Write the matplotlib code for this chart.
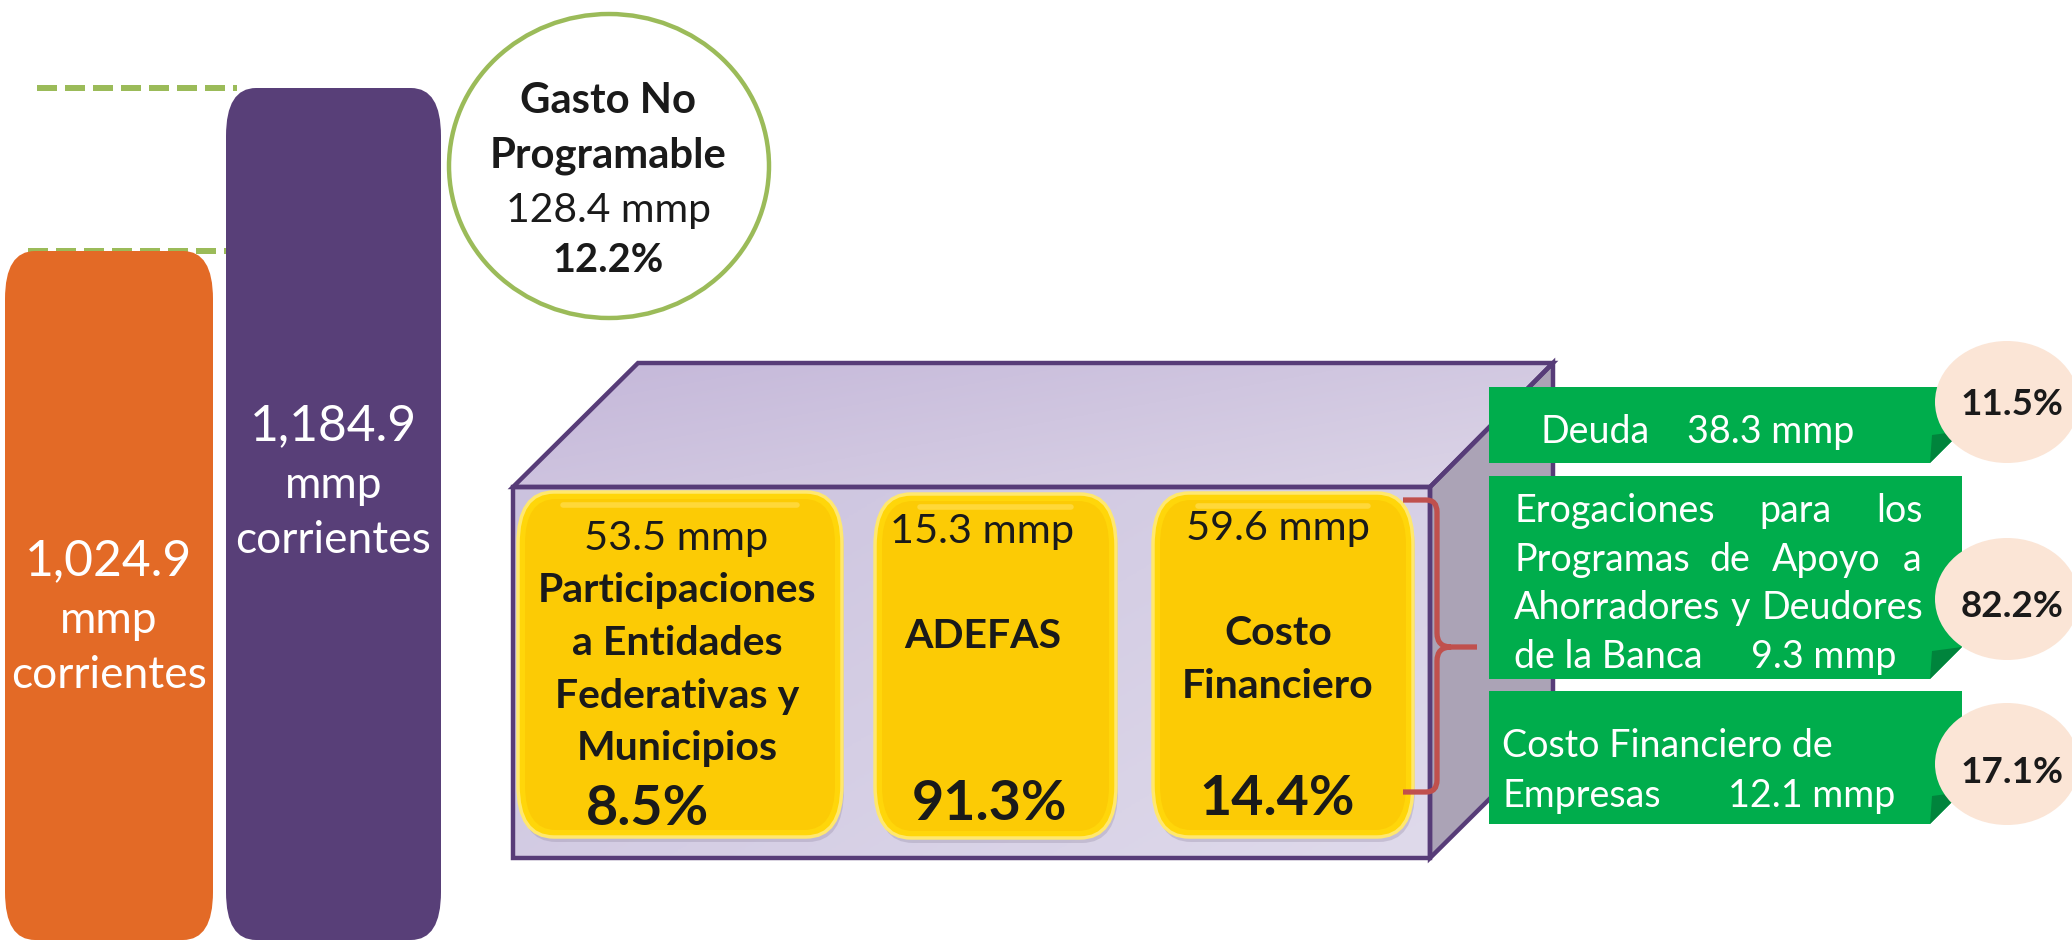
import matplotlib
matplotlib.use("Agg")
import matplotlib.pyplot as plt
from matplotlib.patches import FancyBboxPatch, Polygon, Ellipse, PathPatch
from matplotlib.path import Path
from matplotlib.textpath import TextPath
from matplotlib.font_manager import FontProperties
from matplotlib.colors import LinearSegmentedColormap
import numpy as np

# ---------------- data ----------------
total_values = [1024.9, 1184.9]
total_unit_lines = ["mmp", "corrientes"]
total_colors = ["#E36A26", "#583F78"]

no_prog_title = ["Gasto No", "Programable"]
no_prog_value = 128.4
no_prog_pct = 12.2

comp_labels = [["Participaciones", "a Entidades", "Federativas y", "Municipios"],
               ["ADEFAS"],
               ["Costo", "Financiero"]]
comp_values = [53.5, 15.3, 59.6]
comp_pcts = [8.5, 91.3, 14.4]

cf_labels = [["Deuda"],
             ["Erogaciones para los", "Programas de Apoyo a",
              "Ahorradores y Deudores", "de la Banca"],
             ["Costo Financiero de", "Empresas"]]
cf_values = [38.3, 9.3, 12.1]
cf_pcts = [11.5, 82.2, 17.1]

# ---------------- setup ----------------
W, H, DPI = 2072, 941, 100
FAM = "Lato"
fig = plt.figure(figsize=(W / DPI, H / DPI), dpi=DPI)
ax = fig.add_axes([0, 0, 1, 1])
ax.set_xlim(0, W)
ax.set_ylim(H, 0)
ax.axis("off")


def fp(weight):
    return FontProperties(family=FAM, weight=weight)


def ink_w(s, weight, size=100):
    tp = TextPath((0, 0), s, size=size, prop=fp(weight))
    return tp.get_extents().width * DPI / 72.0  # pixels at `size` pt


def size_for(s, target_px, weight):
    return 100.0 * target_px / ink_w(s, weight)


def txt(x, y, s, size, weight="normal", color="#1a1a1a", ha="center", z=10):
    ax.text(x, y, s, fontsize=size, fontweight=weight, family=FAM, color=color,
            ha=ha, va="baseline", zorder=z)


def justify(words, x0, x1, y, size, color, weight="normal", z=10):
    widths = [ink_w(w, weight, size) for w in words]
    gap = (x1 - x0 - sum(widths)) / (len(words) - 1)
    x = x0
    for w, wd in zip(words, widths):
        txt(x, y, w, size, weight, color, ha="left", z=z)
        x += wd + gap


def fmt_total(v):
    return f"{v:,.1f}"


# ---------------- left bars ----------------
bar_x = [(5, 213), (226, 441)]
bar_top = [251, 88]
for (x0, x1), top, col in zip(bar_x, bar_top, total_colors):
    p = FancyBboxPatch((x0, top), x1 - x0, 940 - top,
                       boxstyle="round,pad=0,rounding_size=30",
                       mutation_aspect=1.6, fc=col, ec="none", zorder=3)
    ax.add_patch(p)

s_bar = size_for("corrientes", 192, "normal")
s_num = size_for("1,024.9", 160, "normal")
bar_base = [[575, 633, 688], [440, 498, 553]]
for (x0, x1), v, bases in zip(bar_x, total_values, bar_base):
    cx = (x0 + x1) / 2
    txt(cx, bases[0], fmt_total(v), s_num, color="white", z=5)
    for ln, b in zip(total_unit_lines, bases[1:]):
        txt(cx, b, ln, s_bar, color="white", z=5)

# dashed guide lines
dash_lw_px = 6
for y, (xa, xb) in zip(bar_top, [(28, 228), (37, 237)]):
    ax.plot([xa, xb], [y, y], color="#9BBB59", lw=dash_lw_px * 0.72,
            dashes=(20 / dash_lw_px, 8 / dash_lw_px), solid_capstyle="butt",
            dash_capstyle="butt", zorder=2)

# ---------------- Gasto No Programable circle ----------------
ax.add_patch(Ellipse((609, 166), 320, 304, fc="white", ec="#9BBB59", lw=3.2, zorder=4))
s_gb = size_for("Programable", 233, "bold")
txt(608, 113, no_prog_title[0], s_gb, "bold", z=5)
txt(608, 167, no_prog_title[1], s_gb, "bold", z=5)
s_gn = size_for(f"{no_prog_value} mmp", 200, "normal")
txt(608, 222, f"{no_prog_value} mmp", s_gn, z=5)
txt(608, 272, f"{no_prog_pct}%", size_for(f"{no_prog_pct}%", 107, "bold"), "bold", z=5)

# ---------------- 3D box ----------------
outline = "#573C78"
front = [(513, 487), (1430, 487), (1430, 858), (513, 858)]
top = [(513, 487), (638, 363), (1553, 363), (1430, 487)]
right = [(1430, 487), (1553, 363), (1553, 736), (1430, 858)]


def grad_fill(poly_pts, c0, c1, z):
    poly = Polygon(poly_pts, closed=True, fc="none", ec="none", zorder=z)
    ax.add_patch(poly)
    xs = [p[0] for p in poly_pts]
    ys = [p[1] for p in poly_pts]
    gx, gy = np.meshgrid(np.linspace(0, 1, 200), np.linspace(0, 1, 200))
    g = (gx * 0.6 + gy * 0.4)
    cmap = LinearSegmentedColormap.from_list("g", [c0, c1])
    im = ax.imshow(g, cmap=cmap, extent=(min(xs), max(xs), max(ys), min(ys)),
                   origin="upper", zorder=z, interpolation="bilinear")
    im.set_clip_path(poly)


grad_fill(top, "#C4B7D9", "#DCD5E7", 1.0)
grad_fill(front, "#CBC2DE", "#DFDAEB", 1.0)
ax.add_patch(Polygon(right, closed=True, fc="#ABA3B6", ec="none", zorder=1.0))
for poly in (top, front, right):
    ax.add_patch(Polygon(poly, closed=True, fc="none", ec=outline, lw=3.2,
                         joinstyle="miter", zorder=1.5))

# ---------------- yellow component boxes ----------------
ybox = [(518, 492, 842, 837), (875, 494, 1116, 838), (1153, 493, 1413, 837)]
for (x0, y0, x1, y1) in ybox:
    # shadow
    ax.add_patch(FancyBboxPatch((x0 + 2, y0 + 5), x1 - x0, y1 - y0,
                                boxstyle="round,pad=0,rounding_size=36", mutation_aspect=1.45,
                                fc="#8E85A0", ec="none", alpha=0.3, zorder=2))
    # glow edge
    ax.add_patch(FancyBboxPatch((x0, y0), x1 - x0, y1 - y0,
                                boxstyle="round,pad=0,rounding_size=36", mutation_aspect=1.45,
                                fc="#FFD60A", ec="#FFE86E", lw=2.5, zorder=2.2))
    ax.add_patch(FancyBboxPatch((x0 + 7, y0 + 7), x1 - x0 - 14, y1 - y0 - 14,
                                boxstyle="round,pad=0,rounding_size=31", mutation_aspect=1.45,
                                fc="#FCCB05", ec="none", zorder=2.3))
    # subtle top highlight
    ax.plot([x0 + 45, x1 - 45], [y0 + 13, y0 + 13], color="#FFD83A", lw=4,
            solid_capstyle="round", zorder=2.4)

s_yn = size_for("59.6 mmp", 180, "normal")
s_yb = size_for("Financiero", 187, "bold")
s_yp = size_for("14.4%", 150, "bold")

val_pos = [(676, 550), (982, 543), (1278, 540)]
label_bases = [[602, 655, 708, 760], [648], [645, 698]]
label_x = [677, 983, 1278]
pct_pos = [(648, 825), (990, 820), (1277, 815)]
for i in range(3):
    txt(val_pos[i][0], val_pos[i][1], f"{comp_values[i]} mmp", s_yn, z=5)
    for ln, b in zip(comp_labels[i], label_bases[i]):
        txt(label_x[i], b, ln, s_yb, "bold", z=5)
    txt(pct_pos[i][0], pct_pos[i][1], f"{comp_pcts[i]}%", s_yp, "bold", z=5)

# ---------------- red bracket ----------------
bx, tipx, ytop, ybot, ymid = 1437, 1477, 500, 792, 647
verts = [(1403, ytop), (1426, ytop), (bx, ytop), (bx, ytop + 12), (bx, ymid - 14),
         (bx, ymid), (bx + 14, ymid), (tipx, ymid),
         (1403, ybot), (1426, ybot), (bx, ybot), (bx, ybot - 12), (bx, ymid + 14),
         (bx, ymid), (bx + 14, ymid)]
codes = [Path.MOVETO, Path.LINETO, Path.CURVE3, Path.CURVE3, Path.LINETO,
         Path.CURVE3, Path.CURVE3, Path.LINETO,
         Path.MOVETO, Path.LINETO, Path.CURVE3, Path.CURVE3, Path.LINETO,
         Path.CURVE3, Path.CURVE3]
ax.add_patch(PathPatch(Path(verts, codes), fc="none", ec="#C0504D", lw=3.8,
                       capstyle="butt", zorder=6))

# ---------------- green boxes ----------------
gboxes = [(1489, 387, 1962, 463), (1489, 476, 1962, 679), (1489, 691, 1962, 824)]
for (x0, y0, x1, y1) in gboxes:
    c = 32
    ax.add_patch(Polygon([(x0, y0), (x1, y0), (x1, y1 - c), (x1 - c, y1), (x0, y1)],
                         closed=True, fc="#00AD4C", ec="none", zorder=7))
    ax.add_patch(Polygon([(x1 - c, y1), (x1, y1 - c), (x1 - c + 2, y1 - c + 4)],
                         closed=True, fc="#00843C", ec="none", zorder=7.1))

s_g = size_for("Costo Financiero de", 327, "normal")
white = "white"
# box 1
txt(1541, 443, cf_labels[0][0], s_g, color=white, ha="left", z=8)
txt(1687, 443, f"{cf_values[0]} mmp", s_g, color=white, ha="left", z=8)
# box 2 (justified)
b2_bases = [522, 571, 619, 668]
for ln, b in zip(cf_labels[1][:3], b2_bases[:3]):
    justify(ln.split(), 1514, 1918, b, s_g, white, z=8)
txt(1514, b2_bases[3], cf_labels[1][3], s_g, color=white, ha="left", z=8)
txt(1751, b2_bases[3], f"{cf_values[1]} mmp", s_g, color=white, ha="left", z=8)
# box 3
txt(1502, 757, cf_labels[2][0], s_g, color=white, ha="left", z=8)
txt(1502, 807, cf_labels[2][1], s_g, color=white, ha="left", z=8)
txt(1728, 807, f"{cf_values[2]} mmp", s_g, color=white, ha="left", z=8)

# ---------------- peach circles ----------------
circ_y = [402, 599, 764]
pct_base = [415, 617, 783]
s_pc = size_for("11.5%", 99, "bold")
for cy, b, p in zip(circ_y, pct_base, cf_pcts):
    ax.add_patch(Ellipse((2007, cy), 144, 122, fc="#FBE5D6", ec="none", zorder=9))
    txt(2012, b, f"{p}%", s_pc, "bold", z=10)

ax.set_xlim(0, W)
ax.set_ylim(H, 0)
ax.set_aspect("auto")
fig.savefig("out.png", dpi=DPI, facecolor="white")
